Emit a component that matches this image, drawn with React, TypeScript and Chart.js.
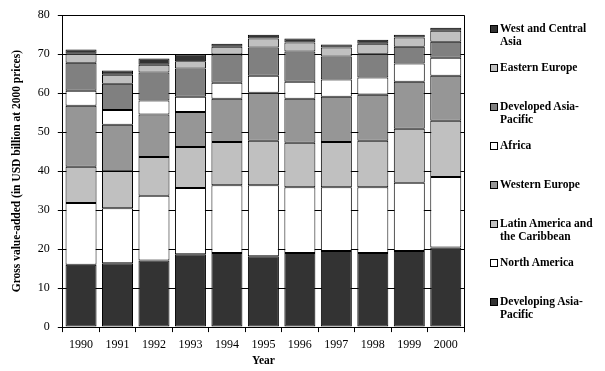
import React, { useEffect, useRef } from "react";
import { Chart, registerables } from "chart.js";

Chart.register(...registerables);

const years = ["1990", "1991", "1992", "1993", "1994", "1995", "1996", "1997", "1998", "1999", "2000"];

const developingAsiaPacific = [16.0, 16.4, 17.1, 18.7, 19.0, 18.2, 19.0, 19.5, 19.0, 19.5, 20.4];
const northAmerica = [15.8, 14.1, 16.6, 17.0, 17.4, 18.2, 16.9, 16.4, 16.9, 17.5, 18.1];
const latinAmerica = [9.3, 9.5, 9.9, 10.5, 11.1, 11.4, 11.4, 11.6, 11.9, 13.9, 14.4];
const westernEurope = [15.7, 11.9, 10.9, 9.0, 11.1, 12.3, 11.3, 11.6, 11.8, 12.0, 11.6];
const africa = [3.8, 3.8, 3.6, 3.9, 4.1, 4.4, 4.3, 4.4, 4.4, 4.7, 4.6];
const developedAsiaPacific = [7.2, 6.7, 7.2, 7.2, 7.2, 7.2, 7.8, 5.9, 6.1, 4.3, 4.1];
const easternEurope = [2.3, 2.3, 2.0, 1.9, 2.0, 2.3, 2.3, 2.3, 2.6, 2.4, 2.8];
const westCentralAsia = [1.1, 1.1, 1.6, 1.7, 0.8, 1.0, 1.0, 0.8, 1.0, 0.7, 0.8];

const seriesNames = [
  "Developing Asia-Pacific",
  "North America",
  "Latin America and the Caribbean",
  "Western Europe",
  "Africa",
  "Developed Asia-Pacific",
  "Eastern Europe",
  "West and Central Asia",
];
const seriesValues = [
  developingAsiaPacific,
  northAmerica,
  latinAmerica,
  westernEurope,
  africa,
  developedAsiaPacific,
  easternEurope,
  westCentralAsia,
];
const seriesColors = ["#333333", "#ffffff", "#c0c0c0", "#969696", "#ffffff", "#808080", "#c0c0c0", "#333333"];

// legend labels (top to bottom), with line breaks as in the reference
const legendLines: string[][] = [
  ["West and Central", "Asia"],
  ["Eastern Europe"],
  ["Developed Asia-", "Pacific"],
  ["Africa"],
  ["Western Europe"],
  ["Latin America and", "the Caribbean"],
  ["North  America"],
  ["Developing Asia-", "Pacific"],
];
const legendColors = [...seriesColors].reverse();

const yTitle = "Gross value-added (in USD billion at 2000 prices)";
const xTitle = "Year";

const FONT = "'Liberation Serif', 'Times New Roman', serif";

const framePlugin = {
  id: "frame",
  afterDatasetsDraw(chart: any) {
    const { ctx, chartArea } = chart;
    ctx.save();
    ctx.strokeStyle = "#000";
    ctx.lineWidth = 1;
    ctx.beginPath();
    const x = Math.round(chartArea.right) + 0.5;
    ctx.moveTo(x, chartArea.top);
    ctx.lineTo(x, chartArea.bottom);
    ctx.stroke();
    ctx.restore();
  },
};

export default function App() {
  const ref = useRef<HTMLCanvasElement | null>(null);

  useEffect(() => {
    document.body.style.margin = "0";
    if (!ref.current) return;
    const chart = new Chart(ref.current, {
      type: "bar",
      data: {
        labels: years,
        datasets: seriesNames.map((name, i) => ({
          label: name,
          data: seriesValues[i],
          backgroundColor: seriesColors[i],
          borderColor: "#000000",
          borderWidth: 1,
          borderSkipped: false,
          barPercentage: 0.85,
          categoryPercentage: 1,
        })),
      },
      options: {
        animation: false,
        responsive: false,
        maintainAspectRatio: false,
        layout: { padding: { left: 10, right: 141, top: 11, bottom: 4 } },
        plugins: {
          legend: { display: false },
          tooltip: { enabled: false },
        },
        scales: {
          x: {
            stacked: true,
            offset: true,
            grid: {
              display: true,
              offset: true,
              drawOnChartArea: false,
              drawTicks: true,
              tickLength: 5,
              color: "#000",
            },
            border: { display: true, color: "#000", width: 1 },
            ticks: {
              color: "#000",
              font: { family: FONT, size: 12 },
              padding: 6,
              maxRotation: 0,
            },
            title: {
              display: true,
              text: xTitle,
              color: "#000",
              font: { family: FONT, size: 11.5, weight: "bold", lineHeight: 1 },
              padding: { top: -3, bottom: 0 },
            },
          },
          y: {
            stacked: true,
            min: 0,
            max: 80,
            grid: {
              color: "#000",
              tickLength: 5,
              drawTicks: true,
            },
            border: { display: true, color: "#000", width: 1 },
            ticks: {
              stepSize: 10,
              color: "#000",
              font: { family: FONT, size: 12 },
              padding: 8,
            },
            title: {
              display: true,
              text: yTitle,
              color: "#000",
              font: { family: FONT, size: 11.5, weight: "bold" },
              padding: { top: 0, bottom: 6 },
            },
          },
        },
      },
      plugins: [framePlugin],
    });
    return () => chart.destroy();
  }, []);

  return (
    <div style={{ position: "relative", width: 605, height: 371, background: "#fff" }}>
      <canvas ref={ref} width={605} height={371} style={{ display: "block" }} />
      {legendLines.map((lines, i) => (
        <div
          key={i}
          style={{
            position: "absolute",
            left: 490,
            top: 22 + i * 39,
            fontFamily: FONT,
            fontWeight: "bold",
            fontSize: 11.5,
            lineHeight: "13px",
            color: "#000",
            whiteSpace: "nowrap",
          }}
        >
          <span
            style={{
              position: "absolute",
              left: 0,
              top: 3,
              width: 6,
              height: 6,
              border: "1px solid #000",
              background: legendColors[i],
            }}
          />
          <div style={{ marginLeft: 10 }}>
            {lines.map((l, j) => (
              <div key={j}>{l}</div>
            ))}
          </div>
        </div>
      ))}
    </div>
  );
}
